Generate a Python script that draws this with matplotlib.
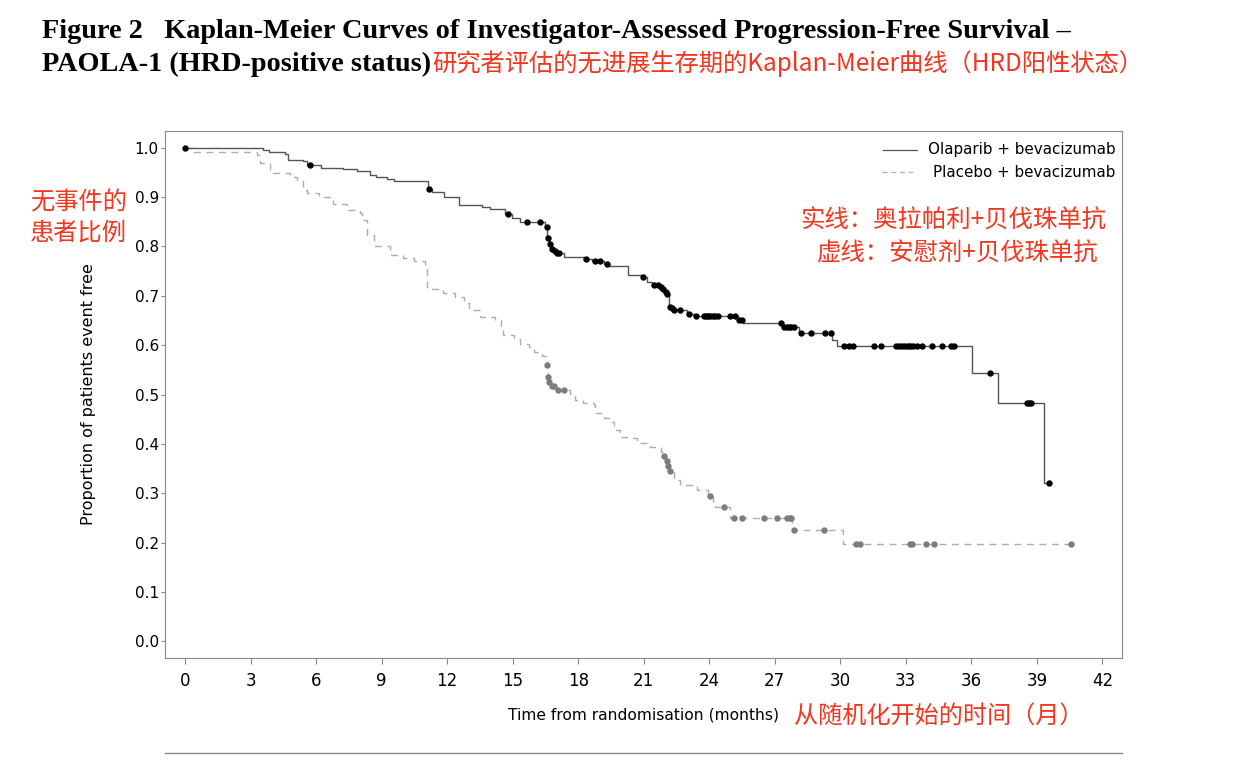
import numpy as np
import matplotlib
matplotlib.use('Agg')
import matplotlib.pyplot as plt
from matplotlib import font_manager

# fonts
names = {f.name for f in font_manager.fontManager.ttflist}
NARROW = 'Liberation Sans Narrow' if 'Liberation Sans Narrow' in names else 'DejaVu Sans'
CJK = 'Noto Sans CJK SC'
RED = '#f4361e'

# ==========================================
# Data (months, proportion event free)
# ==========================================
ola_times = [0.0, 3.56, 3.85, 4.58, 4.69, 5.39, 5.59, 6.22, 7.22, 7.87, 8.47, 8.75,
             9.24, 9.57, 11.10, 11.30, 11.86, 12.52, 13.59, 13.97, 14.66, 14.97,
             15.35, 16.50, 16.58, 16.66, 16.74, 16.86, 17.00, 17.33, 18.25, 18.65,
             19.20, 19.40, 20.26, 20.90, 21.15, 21.40, 21.75, 21.85, 21.95, 22.04,
             22.16, 22.25, 22.35, 23.00, 23.30, 25.30, 25.56, 27.35, 28.10, 29.62,
             29.85, 36.04, 37.21, 39.35]
ola_surv = [1.000, 0.995, 0.992, 0.988, 0.976, 0.973, 0.965, 0.960, 0.957, 0.952, 0.945, 0.940,
            0.936, 0.933, 0.917, 0.910, 0.901, 0.884, 0.881, 0.876, 0.866, 0.857,
            0.849, 0.840, 0.818, 0.805, 0.795, 0.790, 0.787, 0.778, 0.774, 0.771,
            0.765, 0.761, 0.742, 0.738, 0.729, 0.722, 0.718, 0.713, 0.708, 0.703,
            0.678, 0.675, 0.671, 0.664, 0.659, 0.651, 0.644, 0.637, 0.624, 0.611,
            0.598, 0.544, 0.483, 0.321]
ola_censor = [0.0, 5.72, 11.19, 14.80, 15.65, 16.27, 16.55, 16.62, 16.70, 16.80, 16.92,
              17.05, 17.12, 18.35, 18.75, 18.98, 19.30, 20.95, 21.45, 21.65, 21.80,
              21.90, 22.00, 22.08, 22.18, 22.30, 22.40, 22.68, 23.06, 23.40, 23.75,
              23.85, 23.95, 24.05, 24.15, 24.25, 24.40, 24.95, 25.20, 25.38, 25.50,
              27.30, 27.42, 27.55, 27.65, 27.75, 27.88, 28.20, 28.66, 29.28, 29.58,
              30.15, 30.38, 30.60, 31.55, 31.88, 32.55, 32.70, 32.82, 32.95, 33.08,
              33.20, 33.35, 33.50, 33.75, 34.20, 34.68, 35.08, 35.22, 36.85, 38.55,
              38.65, 38.75, 39.55]

pbo_times = [0.0, 0.40, 3.31, 3.44, 3.89, 4.81, 5.12, 5.42, 5.57, 6.11, 6.79, 7.41,
             8.02, 8.09, 8.32, 8.63, 9.39, 10.00, 10.46, 10.98, 11.07, 11.83, 12.37,
             12.75, 12.98, 13.51, 14.20, 14.45, 14.55, 15.04, 15.35, 15.73, 15.96,
             16.34, 16.52, 16.56, 16.60, 16.63, 16.70, 17.00, 17.64, 17.87, 18.24,
             18.70, 18.78, 19.16, 19.47, 19.62, 19.93, 20.23, 20.69, 21.30, 21.79,
             21.92, 22.02, 22.10, 22.16, 22.37, 22.67, 23.44, 23.95, 24.17, 24.28,
             24.97, 27.80, 30.13]
pbo_surv = [1.000, 0.992, 0.986, 0.969, 0.949, 0.941, 0.932, 0.915, 0.908, 0.901, 0.887, 0.874,
            0.867, 0.854, 0.824, 0.800, 0.783, 0.776, 0.770, 0.765, 0.713, 0.706, 0.698,
            0.685, 0.671, 0.658, 0.651, 0.635, 0.621, 0.612, 0.603, 0.597, 0.587,
            0.578, 0.570, 0.560, 0.536, 0.526, 0.517, 0.509, 0.502, 0.489, 0.482,
            0.479, 0.462, 0.452, 0.445, 0.428, 0.414, 0.411, 0.401, 0.393, 0.384,
            0.375, 0.366, 0.356, 0.346, 0.327, 0.316, 0.306, 0.295, 0.285, 0.272,
            0.249, 0.226, 0.197]
pbo_censor = [16.57, 16.61, 16.66, 16.78, 16.90, 17.06, 17.33, 21.95, 22.06, 22.13,
              22.19, 24.02, 24.69, 25.12, 25.50, 26.50, 27.10, 27.55, 27.68, 27.76,
              27.86, 29.24, 30.70, 30.88, 33.17, 33.27, 33.93, 34.28, 40.55]

series_labels = ['Olaparib + bevacizumab', 'Placebo + bevacizumab']
x_ticks = np.arange(0, 43, 3)
y_ticks = np.round(np.arange(0, 1.01, 0.1), 1)


def km_plot(ax, times, surv, censor, line_kw, mcolor):
    t = np.array(times)
    s = np.array(surv)
    c = np.array(censor)
    xs = np.append(t, c.max())
    ys = np.append(s, s[-1])
    ax.step(xs, ys, where='post', **line_kw)
    idx = np.searchsorted(t, c, side='right') - 1
    ax.plot(c, s[idx], 'o', color=mcolor, markersize=4.6, markeredgewidth=0, zorder=4)


fig = plt.figure(figsize=(12.51, 7.60), dpi=100)
ax = fig.add_axes([0.1319, 0.1342, 0.765, 0.6934])

km_plot(ax, pbo_times, pbo_surv, pbo_censor,
        dict(color='#adadad', linewidth=1.0, linestyle=(0, (5, 4))), '#7c7c7c')
km_plot(ax, ola_times, ola_surv, ola_censor,
        dict(color='#555555', linewidth=1.0), '#000000')

ax.set_xlim(-0.92, 42.9)
ax.set_ylim(-0.034, 1.034)
ax.set_xticks(x_ticks)
ax.set_yticks(y_ticks)
ax.set_yticklabels([f'{v:.1f}' for v in y_ticks], fontsize=11)
ax.set_xticklabels([str(v) for v in x_ticks], fontsize=12, family=NARROW)
for sp in ax.spines.values():
    sp.set_color('#888888')
    sp.set_linewidth(0.8)
ax.tick_params(axis='x', length=4, pad=6, color='#888888')
ax.tick_params(axis='y', length=3, pad=1.5, color='#888888')

ax.set_ylabel('Proportion of patients event free', fontsize=11.5, labelpad=28)
ax.set_xlabel('Time from randomisation (months)', fontsize=11.2, family=NARROW, labelpad=13)

# legend (handles left, text right-aligned)
ax.plot([0.750, 0.786], [0.964, 0.964], transform=ax.transAxes, color='#555555', lw=0.9)
ax.plot([0.749, 0.782], [0.922, 0.922], transform=ax.transAxes, color='#b0b0b0',
        lw=0.9, linestyle=(0, (4, 3)))
ax.text(0.993, 0.964, series_labels[0], transform=ax.transAxes, ha='right', va='center',
        fontsize=10.9)
ax.text(0.993, 0.922, series_labels[1], transform=ax.transAxes, ha='right', va='center',
        fontsize=10.9)

# red chinese notes
ax.text(0.984, 0.829, '实线：奥拉帕利+贝伐珠单抗', transform=ax.transAxes, ha='right',
        va='center', fontsize=17.6, color=RED, family=[CJK, 'DejaVu Sans'])
ax.text(0.975, 0.767, '虚线：安慰剂+贝伐珠单抗', transform=ax.transAxes, ha='right',
        va='center', fontsize=17.6, color=RED, family=[CJK, 'DejaVu Sans'])
fig.text(0.024, 0.713, '无事件的\n患者比例', ha='left', va='center', fontsize=17.5,
         color=RED, family=[CJK, 'DejaVu Sans'], linespacing=1.25)
ax.annotate('从随机化开始的时间（月）', xy=(1, 0.5), xycoords=ax.xaxis.label,
            xytext=(11, 0), textcoords='offset points', ha='left', va='center',
            fontsize=17.4, color=RED, family=[CJK, 'DejaVu Sans'])

# titles
t1 = fig.text(0.0336, 0.950, 'Figure 2   Kaplan-Meier Curves of Investigator-Assessed '
              'Progression-Free Survival \u2013', fontsize=20.3, fontweight='bold',
              family='Liberation Serif', va='baseline')
t2 = fig.text(0.0336, 0.907, 'PAOLA-1 (HRD-positive status)', fontsize=20.3,
              fontweight='bold', family='Liberation Serif', va='baseline')
fig.canvas.draw()
ax.annotate('研究者评估的无进展生存期的Kaplan-Meier曲线（HRD阳性状态）', xy=(1, 0),
            xycoords=t2, xytext=(1, 0), textcoords='offset points', ha='left',
            va='bottom', fontsize=17.5, color=RED, family=[CJK, 'DejaVu Sans'])

# rule under the chart
fig.add_artist(plt.Line2D([0.1319, 0.8969], [1 - 753 / 760] * 2, color='#888888', lw=1.0))

fig.savefig('out.png', dpi=100)
